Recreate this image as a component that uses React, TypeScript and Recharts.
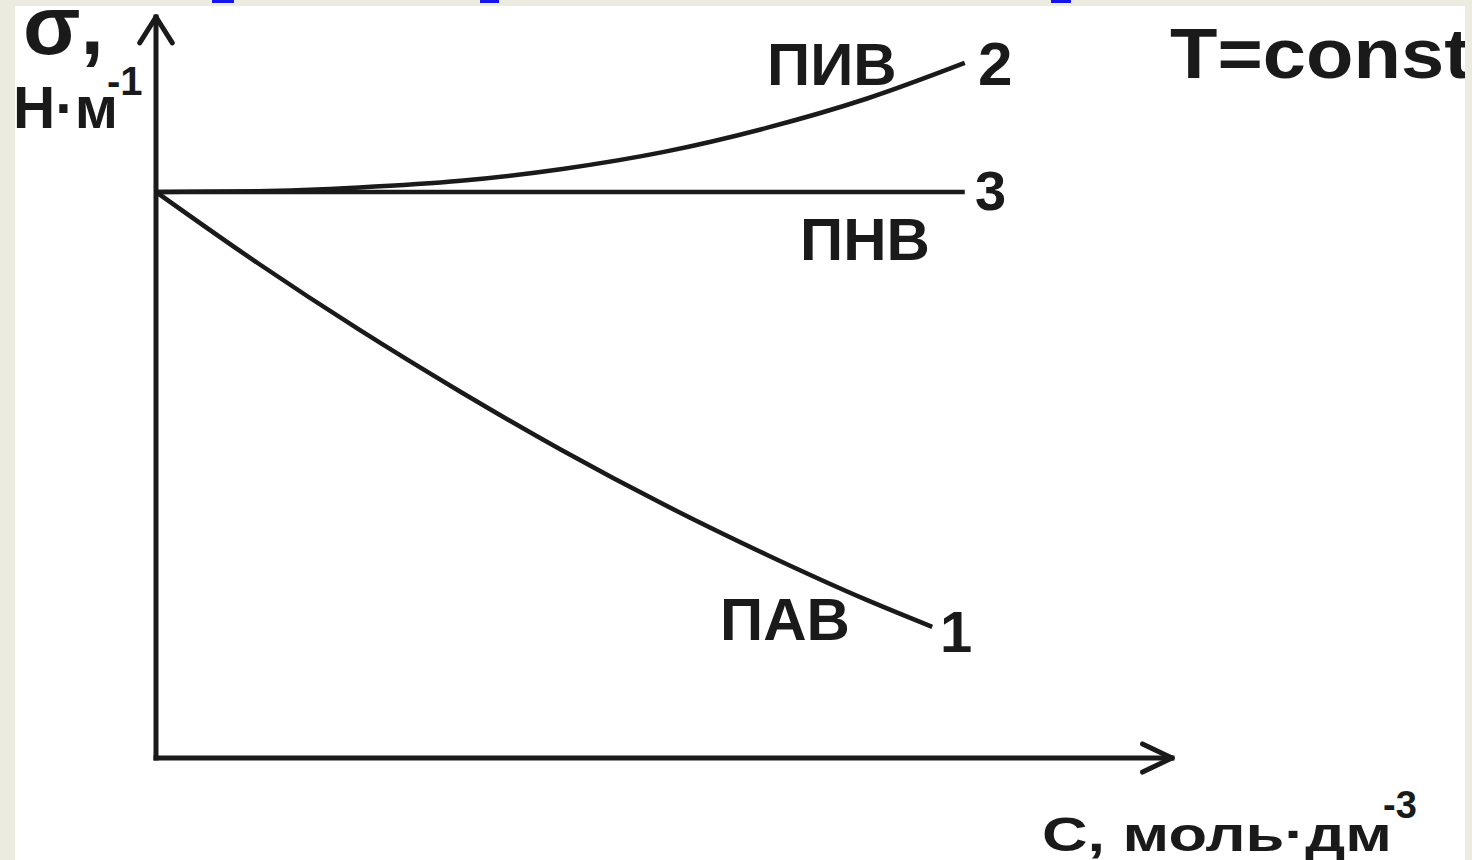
import React from 'react';
import { LineChart, Line, XAxis, YAxis, ReferenceLine } from 'recharts';

// Surface tension σ vs. concentration C at constant temperature (arbitrary units)
// Curve 1 — ПАВ (surfactant), curve 2 — ПИВ, line 3 — ПНВ
const concPAV = [0, 10, 20, 30, 40, 50, 60, 70, 76.4];
const sigmaPAV = [76.4, 66.8, 57.8, 49.4, 41.5, 34.2, 27.5, 21.3, 17.7];

const concPIV = [0, 10, 20, 30, 40, 50, 60, 70, 79.6];
const sigmaPIV = [76.4, 76.5, 77.0, 77.9, 79.5, 81.8, 85.0, 89.0, 93.8];

const concPNV = [0, 79.6];
const sigmaPNV = [76.4, 76.4];

const xDomain: [number, number] = [0, 100];
const yDomain: [number, number] = [0, 100];

const toRows = (cs: number[], ss: number[]) => cs.map((c, i) => ({ c, s: ss[i] }));

const INK = '#1a1a1a';
const FRAME = '#ECEBE0';
const FONT = '"Liberation Sans", Arial, sans-serif';

const W = 1472;
const H = 860;

export default function App() {
  const pav = toRows(concPAV, sigmaPAV);
  const piv = toRows(concPIV, sigmaPIV);
  const pnv = toRows(concPNV, sigmaPNV);

  const txt = (props: any, content: React.ReactNode, key: string) => (
    <text key={key} fontFamily={FONT} fontWeight="bold" fill={INK} {...props}>
      {content}
    </text>
  );

  const seg = (a: [number, number], b: [number, number], w: number, cap: 'round' | 'square') => (
    <ReferenceLine
      segment={[{ x: a[0], y: a[1] }, { x: b[0], y: b[1] }]}
      stroke={INK}
      strokeWidth={w}
      strokeLinecap={cap}
      ifOverflow="visible"
    />
  );

  return (
    <div style={{ position: 'absolute', left: 0, top: 0, width: W, height: H, background: '#ffffff', overflow: 'hidden' }}>
      <LineChart width={W} height={H} data={pav} margin={{ top: 17, right: 300, bottom: 102, left: 156 }}>
        <XAxis dataKey="c" type="number" domain={xDomain} allowDataOverflow hide />
        <YAxis type="number" domain={yDomain} allowDataOverflow hide />

        {/* axes */}
        {seg([0, 0], [0, 100], 5, 'square')}
        {seg([0, 0], [100, 0], 5, 'square')}
        {/* arrow heads */}
        {seg([-1.6, 96.5], [0, 100], 5, 'round')}
        {seg([1.6, 96.5], [0, 100], 5, 'round')}
        {seg([97.1, 1.9], [100, 0], 5, 'round')}
        {seg([97.1, -1.9], [100, 0], 5, 'round')}

        <Line data={pnv} dataKey="s" type="linear" stroke={INK} strokeWidth={4.5} dot={false} isAnimationActive={false} />
        <Line data={piv} dataKey="s" type="monotone" stroke={INK} strokeWidth={4.5} dot={false} isAnimationActive={false} />
        <Line data={pav} dataKey="s" type="monotone" stroke={INK} strokeWidth={4.5} dot={false} isAnimationActive={false} />
      </LineChart>

      {/* axis titles and curve labels */}
      <svg width={W} height={H} style={{ position: 'absolute', left: 0, top: 0, pointerEvents: 'none' }}>
        {txt({ x: 23, y: 54, fontSize: 84 }, 'σ,', 'sigma')}
        {txt({ x: 13, y: 128, fontSize: 60, textLength: 105, lengthAdjust: 'spacingAndGlyphs' }, 'Н·м', 'unitY')}
        {txt({ x: 107, y: 95, fontSize: 40 }, '-1', 'supY')}
        {txt({ x: 767, y: 85, fontSize: 60 }, 'ПИВ', 'piv')}
        {txt({ x: 978, y: 85, fontSize: 62 }, '2', 'n2')}
        {txt({ x: 975, y: 210, fontSize: 56 }, '3', 'n3')}
        {txt({ x: 800, y: 260, fontSize: 60 }, 'ПНВ', 'pnv')}
        {txt({ x: 720, y: 640, fontSize: 60 }, 'ПАВ', 'pav')}
        {txt({ x: 940, y: 652, fontSize: 58 }, '1', 'n1')}
        {txt({ x: 1170, y: 78, fontSize: 70, textLength: 300, lengthAdjust: 'spacingAndGlyphs' }, 'T=const', 'tconst')}
        {txt({ x: 1042, y: 851, fontSize: 48, textLength: 350, lengthAdjust: 'spacingAndGlyphs' }, 'С, моль·дм', 'unitX')}
        {txt({ x: 1383, y: 818, fontSize: 38 }, '-3', 'supX')}
      </svg>

      {/* slide frame */}
      <div style={{ position: 'absolute', left: 0, top: 0, width: W, height: 6, background: FRAME }} />
      <div style={{ position: 'absolute', left: 0, top: 0, width: 15, height: H, background: FRAME }} />
      <div style={{ position: 'absolute', left: 1465, top: 0, width: 7, height: H, background: FRAME }} />
      <div style={{ position: 'absolute', left: 212, top: 0, width: 22, height: 3, background: '#1515ee' }} />
      <div style={{ position: 'absolute', left: 480, top: 0, width: 19, height: 3, background: '#1515ee' }} />
      <div style={{ position: 'absolute', left: 1051, top: 0, width: 20, height: 3, background: '#1515ee' }} />
    </div>
  );
}
